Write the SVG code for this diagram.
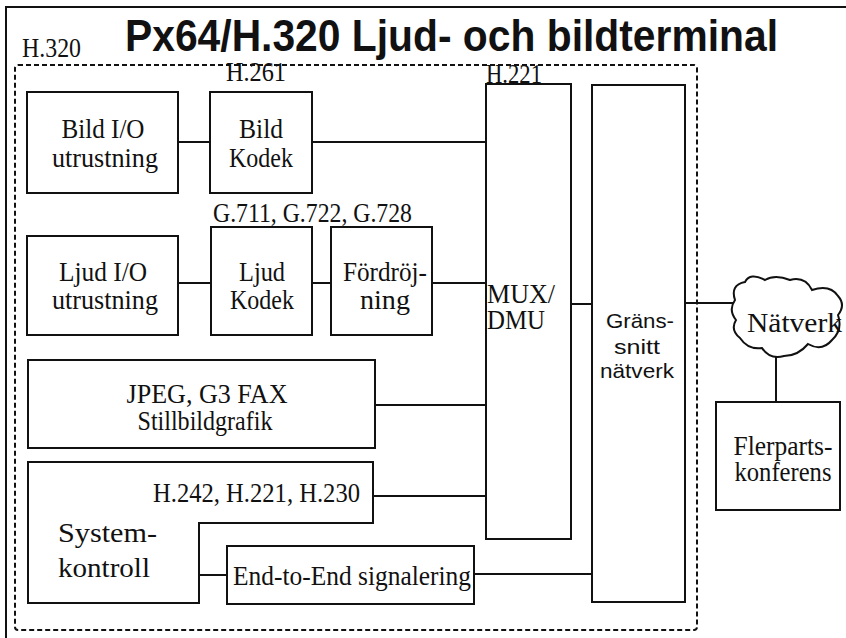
<svg xmlns="http://www.w3.org/2000/svg" width="846" height="638" viewBox="0 0 846 638">
<defs>
<style>
.box{fill:none;stroke:#111;stroke-width:2}
.ln{fill:none;stroke:#111;stroke-width:2}
.t{font-family:"Liberation Serif","Times New Roman",serif;font-size:27px;fill:#111}
.s{font-family:"Liberation Sans",Arial,sans-serif;font-size:21px;fill:#111}
.c{text-anchor:middle}
.dash{fill:none;stroke:#111;stroke-width:2;stroke-dasharray:5 3}
</style>
</defs>
<rect width="846" height="638" fill="#fff"/>
<g id="frame">
<path class="ln" d="M6,638 V7 H846"/>
<rect class="dash" x="15" y="65" width="682" height="565" rx="3"/>
<text x="125" y="51" font-family="'Liberation Sans',Arial,sans-serif" font-weight="bold" font-size="45" fill="#111" textLength="653" lengthAdjust="spacingAndGlyphs">Px64/H.320 Ljud- och bildterminal</text>
<text class="t" x="22" y="57" font-size="24" textLength="59" lengthAdjust="spacingAndGlyphs">H.320</text>
</g>
<g id="connectors">
<line class="ln" x1="178" y1="142" x2="210" y2="142"/>
<line class="ln" x1="312" y1="142" x2="486" y2="142"/>
<line class="ln" x1="178" y1="283" x2="211" y2="283"/>
<line class="ln" x1="312" y1="283" x2="331" y2="283"/>
<line class="ln" x1="432" y1="283" x2="486" y2="283"/>
<line class="ln" x1="375" y1="405" x2="486" y2="405"/>
<line class="ln" x1="373" y1="496" x2="486" y2="496"/>
<line class="ln" x1="199" y1="575" x2="227" y2="575"/>
<line class="ln" x1="474" y1="574" x2="592" y2="574"/>
<line class="ln" x1="571" y1="304" x2="592" y2="304"/>
<line class="ln" x1="685" y1="303" x2="734" y2="303"/>
<line class="ln" x1="776" y1="356" x2="776" y2="402"/>
</g>
<g id="bild-io">
<rect class="box" x="27" y="92" width="151" height="101"/>
<text class="t c" x="103" y="138" textLength="83" lengthAdjust="spacingAndGlyphs">Bild I/O</text>
<text class="t c" x="105" y="167" textLength="106" lengthAdjust="spacingAndGlyphs">utrustning</text>
</g>
<g id="bild-kodek">
<text class="t c" x="256" y="81" font-size="24" textLength="60" lengthAdjust="spacingAndGlyphs">H.261</text>
<rect class="box" x="210" y="92" width="102" height="101"/>
<text class="t c" x="261" y="138" textLength="44" lengthAdjust="spacingAndGlyphs">Bild</text>
<text class="t c" x="261" y="167" textLength="64" lengthAdjust="spacingAndGlyphs">Kodek</text>
</g>
<g id="ljud-io">
<rect class="box" x="27" y="236" width="151" height="99"/>
<text class="t c" x="103" y="281" textLength="88" lengthAdjust="spacingAndGlyphs">Ljud I/O</text>
<text class="t c" x="105" y="309" textLength="106" lengthAdjust="spacingAndGlyphs">utrustning</text>
</g>
<g id="ljud-kodek">
<text class="t" x="213" y="222" font-size="25" textLength="199" lengthAdjust="spacingAndGlyphs">G.711, G.722, G.728</text>
<rect class="box" x="211" y="227" width="101" height="108"/>
<text class="t c" x="262" y="281" textLength="46" lengthAdjust="spacingAndGlyphs">Ljud</text>
<text class="t c" x="262" y="309" textLength="64" lengthAdjust="spacingAndGlyphs">Kodek</text>
</g>
<g id="fordrojning">
<rect class="box" x="331" y="227" width="101" height="108"/>
<text class="t c" x="385" y="281" textLength="84" lengthAdjust="spacingAndGlyphs">Fördröj-</text>
<text class="t c" x="385" y="309" textLength="50" lengthAdjust="spacingAndGlyphs">ning</text>
</g>
<g id="jpeg">
<rect class="box" x="28" y="360" width="347" height="88"/>
<text class="t c" x="207" y="403" font-size="25" textLength="161" lengthAdjust="spacingAndGlyphs">JPEG, G3 FAX</text>
<text class="t c" x="205" y="430" font-size="24" textLength="135" lengthAdjust="spacingAndGlyphs">Stillbildgrafik</text>
</g>
<g id="systemkontroll">
<path class="box" d="M28,462 H373 V523 H199 V603 H28 Z"/>
<text class="t" x="153" y="502" font-size="26" textLength="207" lengthAdjust="spacingAndGlyphs">H.242, H.221, H.230</text>
<text class="t" x="58" y="542" font-size="31" textLength="99" lengthAdjust="spacingAndGlyphs">System-</text>
<text class="t" x="58" y="577" font-size="31" textLength="92" lengthAdjust="spacingAndGlyphs">kontroll</text>
</g>
<g id="end-to-end">
<rect class="box" x="227" y="546" width="247" height="58"/>
<text class="t" x="233" y="585" textLength="238" lengthAdjust="spacingAndGlyphs">End-to-End signalering</text>
</g>
<g id="mux">
<rect class="box" x="486" y="84" width="85" height="455"/>
<text class="t" x="486" y="83" font-size="24" textLength="56" lengthAdjust="spacingAndGlyphs">H.221</text>
<text class="t" x="487" y="303" font-size="25" textLength="68" lengthAdjust="spacingAndGlyphs">MUX/</text>
<text class="t" x="487" y="329" font-size="25" textLength="58" lengthAdjust="spacingAndGlyphs">DMU</text>
</g>
<g id="granssnitt">
<rect class="box" x="592" y="85" width="93" height="517"/>
<text class="s c" x="640" y="328" textLength="68" lengthAdjust="spacingAndGlyphs">Gräns-</text>
<text class="s c" x="637" y="354" textLength="46" lengthAdjust="spacingAndGlyphs">snitt</text>
<text class="s c" x="637" y="378" textLength="74" lengthAdjust="spacingAndGlyphs">nätverk</text>
</g>
<g id="natverk">
<path class="box" d="M735,300 Q730,285 745,282 Q750,272 765,280 Q775,274 790,280 Q805,276 812,290 Q830,284 838,296 Q846,305 838,315 Q843,330 832,340 Q822,352 808,344 Q798,356 784,356 Q770,360 762,348 Q748,350 740,338 Q730,330 736,320 Q728,310 735,300 Z"/>
<text class="t" x="747" y="332" font-size="29" textLength="95" lengthAdjust="spacingAndGlyphs">Nätverk</text>
</g>
<g id="flerparts">
<rect class="box" x="716" y="402" width="124" height="108"/>
<text class="t c" x="783" y="455" font-size="25" textLength="99" lengthAdjust="spacingAndGlyphs">Flerparts-</text>
<text class="t c" x="783" y="481" font-size="25" textLength="97" lengthAdjust="spacingAndGlyphs">konferens</text>
</g>
</svg>
